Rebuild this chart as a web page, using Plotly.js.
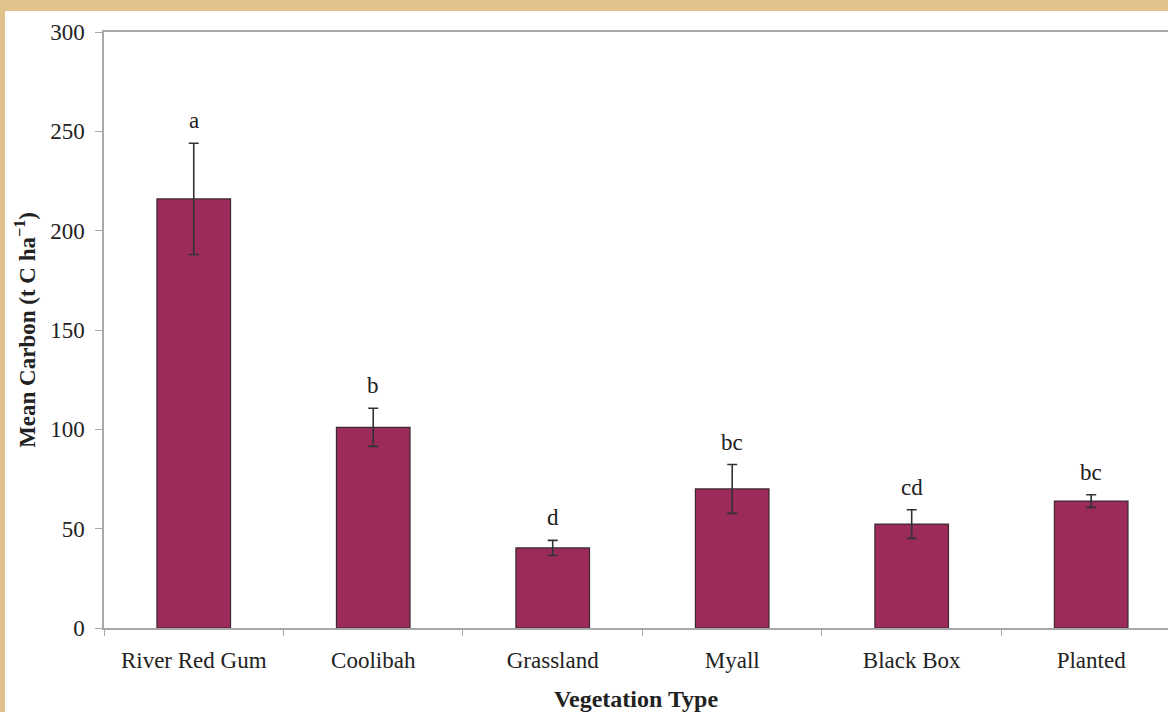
<!DOCTYPE html>
<html>
<head>
<meta charset="utf-8">
<script src="https://cdn.plot.ly/plotly-3.0.1.min.js"></script>
<style>
  html, body { margin: 0; padding: 0; background: #e1c28c; width: 1168px; height: 712px; overflow: hidden; }
  #chart { position: absolute; left: 5px; top: 11px; width: 1163px; height: 701px; background: #ffffff; }
</style>
</head>
<body>
<div id="chart"></div>
<script>
const categories = ["River Red Gum", "Coolibah", "Grassland", "Myall", "Black Box", "Planted"];
const meanCarbon = [216, 101, 40.3, 70, 52.3, 63.9];
const stdError = [28, 9.6, 3.8, 12.3, 7.2, 3.2];
const groupLetters = ["a", "b", "d", "bc", "cd", "bc"];

const serif = "Liberation Serif, Times New Roman, serif";

const trace = {
  type: "bar",
  x: categories,
  y: meanCarbon,
  width: 0.41,
  marker: { color: "#9c2a5a", line: { color: "#3a2a30", width: 1.2 } },
  error_y: { type: "data", array: stdError, visible: true, color: "#333333", thickness: 1.6, width: 5 },
  hoverinfo: "x+y"
};

const annotations = categories.map((c, i) => ({
  x: c,
  y: meanCarbon[i] + stdError[i],
  xref: "x", yref: "y",
  text: groupLetters[i],
  showarrow: false,
  yanchor: "bottom",
  yshift: 8,
  font: { family: serif, size: 23, color: "#222222" }
}));

const layout = {
  width: 1163,
  height: 701,
  paper_bgcolor: "#ffffff",
  plot_bgcolor: "#ffffff",
  margin: { l: 99, r: 0, t: 21, b: 84 },
  showlegend: false,
  xaxis: {
    type: "category",
    range: [-0.5, 5.428],
    showline: true,
    linecolor: "#a8a8a8",
    linewidth: 1.6,
    mirror: true,
    ticks: "outside",
    tickson: "boundaries",
    ticklen: 6,
    tickcolor: "#a8a8a8",
    showgrid: false,
    zeroline: false,
    tickfont: { family: serif, size: 23, color: "#222222" },
    ticklabelstandoff: 11,
    title: { text: "<b>Vegetation Type</b>", font: { family: serif, size: 24, color: "#222222" }, standoff: 19 },
    automargin: false
  },
  yaxis: {
    range: [0, 300],
    dtick: 50,
    showline: true,
    linecolor: "#a8a8a8",
    linewidth: 1.6,
    ticks: "outside",
    ticklen: 7,
    tickcolor: "#a8a8a8",
    showgrid: false,
    zeroline: false,
    tickfont: { family: serif, size: 23, color: "#222222" },
    ticklabelstandoff: 6,
    title: { text: "<b>Mean Carbon (t C ha<sup>−1</sup>)</b>", font: { family: serif, size: 23, color: "#222222" }, standoff: 8 },
    automargin: false
  },
  annotations: annotations
};

Plotly.newPlot("chart", [trace], layout, { displayModeBar: false, staticPlot: true });
</script>
</body>
</html>
